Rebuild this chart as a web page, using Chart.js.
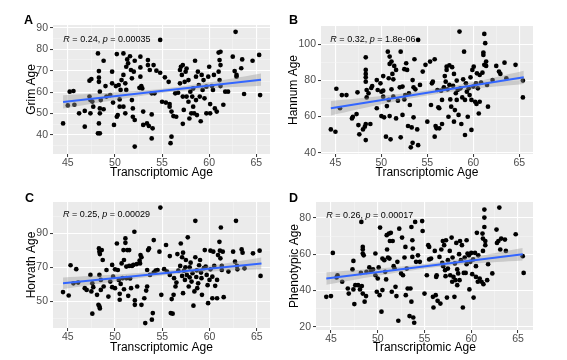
<!DOCTYPE html>
<html><head><meta charset="utf-8">
<script src="https://cdn.jsdelivr.net/npm/chart.js@4"></script>
<style>
body{margin:0;background:#fff;width:567px;height:360px;overflow:hidden;position:relative;font-family:'Liberation Sans',Arial,sans-serif}
canvas{position:absolute}
.lab{position:absolute;font:bold 12.5px 'Liberation Sans',Arial,sans-serif;color:#000;line-height:12px}
</style></head><body>
<canvas id="cA" width="283" height="180" style="left:0;top:0"></canvas>
<canvas id="cB" width="284" height="180" style="left:283px;top:0"></canvas>
<canvas id="cC" width="283" height="180" style="left:0;top:180px"></canvas>
<canvas id="cD" width="284" height="180" style="left:283px;top:180px"></canvas>
<div class="lab" style="left:24px;top:14px">A</div>
<div class="lab" style="left:289px;top:14px">B</div>
<div class="lab" style="left:25px;top:192px">C</div>
<div class="lab" style="left:289px;top:192px">D</div>
<script>
// ---------- DATA ----------
const xTitle = "Transcriptomic Age";
const xMajorTicks = [45, 50, 55, 60, 65];
const xMinorTicks = [47.5, 52.5, 57.5, 62.5];

// Panel A: Grim Age
const grimPoints = [[44.5,45.4],[45.0,53.8],[45.2,60.2],[45.6,60.5],[45.7,54.1],[46.2,50.1],[46.8,43.9],[46.8,51.2],[47.3,65.3],[47.5,66.1],[47.3,57.9],[47.4,56.3],[47.4,50.1],[47.6,55.6],[47.7,53.2],[48.2,78.0],[48.3,69.8],[48.3,66.7],[48.3,64.8],[48.4,60.2],[48.4,52.4],[48.4,50.1],[48.3,45.4],[48.2,40.8],[48.4,40.8],[48.5,56.3],[48.8,74.6],[49.0,62.8],[49.1,57.9],[48.8,52.0],[49.5,58.6],[49.7,69.5],[49.7,64.1],[49.8,55.1],[49.9,44.7],[50.1,62.8],[50.2,77.7],[50.2,48.5],[50.3,49.3],[50.4,63.3],[50.5,56.6],[50.5,53.2],[50.6,61.0],[50.7,65.6],[50.9,78.0],[50.9,68.0],[50.9,53.2],[51.1,50.1],[51.1,64.1],[51.2,61.0],[51.2,71.8],[51.3,75.2],[51.4,73.4],[51.6,76.7],[51.7,70.3],[51.8,66.4],[51.8,56.3],[51.9,52.4],[51.9,48.5],[52.1,47.0],[52.0,69.5],[52.1,74.6],[52.6,62.0],[52.7,67.2],[52.7,71.5],[52.7,76.5],[52.8,62.8],[52.9,61.7],[53.0,44.7],[52.1,34.6],[53.0,50.9],[53.4,45.4],[53.5,74.9],[53.5,72.6],[53.6,44.2],[53.7,70.3],[53.9,59.4],[53.9,49.6],[54.0,43.1],[53.9,38.4],[54.1,72.6],[54.2,59.4],[54.4,70.0],[54.8,84.3],[54.8,69.0],[55.0,55.5],[55.3,66.9],[55.4,55.1],[55.7,64.8],[55.8,53.2],[55.8,54.4],[55.9,36.2],[56.0,39.2],[56.0,50.9],[56.2,48.8],[56.4,59.4],[56.5,48.5],[56.7,59.7],[56.9,64.1],[56.9,70.3],[57.0,71.8],[57.1,68.0],[57.2,72.6],[57.2,57.9],[57.2,45.2],[57.3,51.7],[57.4,64.8],[57.5,69.5],[57.6,71.0],[57.6,57.9],[57.8,55.5],[57.8,65.6],[57.9,47.7],[58.0,60.2],[58.1,50.1],[58.2,57.9],[58.3,61.7],[58.3,53.2],[58.4,50.1],[58.5,74.6],[58.6,67.2],[58.6,56.3],[58.7,49.3],[58.8,69.5],[58.9,63.3],[59.0,57.9],[59.1,46.4],[59.2,68.0],[59.3,61.0],[59.4,65.6],[59.5,57.1],[59.7,62.5],[59.7,50.1],[59.9,67.2],[60.0,71.8],[60.1,54.4],[60.1,50.1],[60.3,62.8],[60.4,61.0],[60.5,68.0],[60.6,52.4],[60.8,50.9],[61.0,78.4],[61.1,74.9],[61.2,72.6],[61.2,78.8],[61.0,69.5],[61.1,65.6],[61.2,62.8],[61.5,54.1],[61.7,60.2],[62.0,60.2],[62.5,76.5],[62.7,69.8],[62.8,88.1],[62.9,68.0],[62.9,67.2],[63.4,71.1],[63.5,75.2],[63.7,59.1],[64.6,74.6],[65.3,77.3],[65.4,58.6]];
const grimFit = [[44.5,55.4],[65.5,65.8]];
const grimBandX = [44.5, 50, 55, 60, 65.5];
const grimBandLow = [52.3, 56.3, 59.6, 61.6, 62.9];
const grimBandHigh = [58.5, 59.9, 61.6, 64.6, 68.7];
const grimYMajor = [40, 50, 60, 70, 80, 90];
const grimYMinor = [35, 45, 55, 65, 75, 85];
const grimLabel = ["0.24", "0.00035"];

// Panel B: Hannum Age
const hannumPoints = [[44.5,52.9],[45.0,51.6],[45.1,75.4],[45.5,64.6],[45.7,71.9],[46.2,71.9],[46.8,59.0],[46.9,59.9],[47.3,61.4],[47.4,73.4],[47.5,55.3],[47.6,50.2],[48.0,52.9],[48.2,54.4],[48.3,55.9],[48.3,92.8],[48.3,85.8],[48.3,83.6],[48.3,81.7],[48.3,79.3],[48.4,74.7],[48.4,70.6],[48.3,47.0],[48.6,72.9],[48.8,55.9],[48.9,75.8],[49.0,76.9],[49.5,64.6],[49.5,80.2],[49.6,74.7],[49.9,78.4],[50.0,73.8],[50.0,60.3],[50.2,82.4],[50.2,71.0],[50.2,74.3],[50.3,59.6],[50.5,48.9],[50.6,65.8],[50.7,95.9],[50.8,81.2],[50.8,69.2],[50.9,93.2],[50.9,89.1],[50.9,60.3],[51.0,47.4],[51.1,75.1],[51.1,90.4],[51.2,83.6],[51.3,80.6],[51.3,71.0],[51.4,88.0],[51.6,85.8],[51.6,59.0],[51.8,68.8],[52.0,76.2],[52.1,95.9],[52.1,48.5],[52.3,76.6],[52.3,60.9],[52.5,69.5],[52.5,86.2],[52.6,71.9],[52.7,89.5],[52.8,85.8],[52.9,54.8],[53.0,72.9],[53.1,66.4],[53.2,43.0],[53.3,54.0],[53.4,45.5],[53.4,80.2],[53.5,76.2],[53.5,59.6],[53.6,91.7],[53.7,75.1],[53.9,52.9],[54.0,102.4],[54.0,44.2],[54.2,77.5],[54.5,84.9],[54.8,88.6],[55.0,57.2],[55.3,90.4],[55.4,66.4],[55.5,78.4],[55.6,79.3],[55.8,91.7],[55.8,48.9],[55.9,54.8],[56.0,53.5],[56.1,74.7],[56.2,65.1],[56.3,53.5],[56.3,64.6],[56.5,74.3],[56.6,69.2],[56.6,55.9],[56.8,76.2],[56.9,82.4],[57.0,79.3],[57.1,87.6],[57.1,85.8],[57.2,75.1],[57.3,59.9],[57.4,88.4],[57.4,77.5],[57.5,69.5],[57.6,65.5],[57.7,87.3],[57.8,77.0],[57.9,57.2],[57.9,83.6],[58.0,63.6],[58.1,72.9],[58.2,79.9],[58.2,69.2],[58.3,74.7],[58.4,60.9],[58.5,107.0],[58.6,75.6],[58.7,55.9],[58.8,70.6],[58.9,80.6],[59.0,95.9],[59.1,69.2],[59.1,49.8],[59.2,78.4],[59.3,73.8],[59.4,59.9],[59.5,75.6],[59.6,71.9],[59.7,81.7],[59.8,52.6],[59.8,69.2],[59.9,85.8],[60.0,76.6],[60.05,87.6],[60.2,68.2],[60.3,78.4],[60.35,67.0],[60.4,83.9],[60.5,75.6],[60.6,61.7],[60.7,83.0],[60.7,68.2],[60.85,78.8],[61.0,84.3],[61.1,95.4],[61.1,94.1],[61.2,88.6],[61.2,105.7],[61.3,100.6],[61.4,90.4],[61.4,88.0],[61.5,77.5],[61.6,65.5],[62.1,80.2],[62.5,88.0],[62.8,84.9],[62.95,83.6],[63.4,89.8],[63.6,81.2],[64.6,88.6],[65.4,79.9],[65.4,70.6]];
const hannumFit = [[44.5,64.6],[65.5,81.7]];
const hannumBandX = [44.5, 50, 55, 60, 65.5];
const hannumBandLow = [60.6, 66.8, 71.7, 75.3, 78.0];
const hannumBandHigh = [68.6, 71.4, 74.5, 79.1, 85.4];
const hannumYMajor = [40, 60, 80, 100];
const hannumYMinor = [50, 70, 90];
const hannumLabel = ["0.32", "1.8e-06"];

// Panel C: Horvath Age
const horvathPoints = [[44.5,55.5],[45.1,53.5],[45.3,71.3],[45.6,60.7],[45.9,69.0],[46.1,61.1],[46.8,57.8],[47.0,56.8],[47.4,65.6],[47.5,55.9],[47.6,42.8],[47.6,60.7],[47.7,58.4],[48.1,53.9],[48.3,81.2],[48.35,79.3],[48.4,77.9],[48.35,65.6],[48.25,48.0],[48.35,47.1],[48.4,45.9],[48.5,62.7],[48.5,56.8],[48.6,80.2],[48.7,74.4],[48.8,58.8],[49.1,68.5],[49.3,52.9],[49.5,61.7],[49.7,58.4],[49.7,71.5],[49.8,64.6],[50.0,68.9],[50.0,57.8],[50.2,84.1],[50.3,68.5],[50.4,62.7],[50.5,54.5],[50.5,51.0],[50.6,60.3],[50.7,72.4],[50.8,63.7],[50.9,80.2],[50.95,74.4],[50.95,57.2],[51.1,87.1],[51.1,84.5],[51.2,70.5],[51.2,63.7],[51.3,80.2],[51.4,53.3],[51.5,70.9],[51.5,80.2],[51.6,63.5],[51.7,57.8],[51.8,70.9],[51.95,71.5],[52.05,91.0],[52.1,50.6],[52.1,48.0],[52.3,72.0],[52.35,58.8],[52.6,74.0],[52.65,72.4],[52.7,77.3],[52.8,76.0],[52.8,48.0],[53.1,51.9],[53.2,37.3],[53.3,56.4],[53.4,58.8],[53.4,68.5],[53.5,80.2],[53.6,81.2],[53.7,65.6],[53.9,39.3],[54.0,43.2],[54.1,86.1],[54.1,67.0],[54.3,68.1],[54.5,68.5],[54.7,79.3],[54.8,105.2],[54.9,53.9],[55.2,69.0],[55.4,83.2],[55.5,67.6],[55.8,76.7],[55.8,65.6],[55.9,43.2],[56.0,51.4],[56.1,42.8],[56.2,53.9],[56.25,63.7],[56.4,58.8],[56.5,61.1],[56.6,77.9],[56.7,68.1],[56.9,70.9],[56.96,84.1],[57.1,76.0],[57.1,65.0],[57.2,54.9],[57.2,78.7],[57.3,68.1],[57.4,62.7],[57.45,70.1],[57.5,74.4],[57.6,65.6],[57.7,87.7],[57.8,58.8],[57.9,64.2],[57.9,70.1],[58.0,72.8],[58.1,61.7],[58.2,66.6],[58.3,47.5],[58.4,55.9],[58.5,97.4],[58.5,76.0],[58.6,64.4],[58.65,68.3],[58.7,57.8],[58.8,60.7],[58.9,71.3],[59.0,74.4],[59.1,67.0],[59.15,63.7],[59.2,53.9],[59.4,69.6],[59.5,80.2],[59.6,70.5],[59.7,65.6],[59.8,59.6],[59.85,49.0],[60.0,62.7],[60.1,79.9],[60.1,68.9],[60.3,64.6],[60.3,51.9],[60.4,79.3],[60.5,70.9],[60.6,59.2],[60.8,51.9],[60.8,62.7],[60.9,77.3],[61.05,85.1],[61.1,79.9],[61.15,75.4],[61.2,93.5],[61.3,70.9],[61.3,68.5],[61.4,79.3],[61.5,52.5],[62.0,67.6],[62.5,79.3],[62.7,73.4],[62.8,97.4],[62.9,70.9],[62.95,68.9],[63.4,80.6],[63.5,78.7],[63.7,69.5],[64.6,78.3],[65.3,79.9],[65.4,65.0]];
const horvathFit = [[44.5,60.7],[65.5,72.4]];
const horvathBandX = [44.5, 50, 55, 60, 65.5];
const horvathBandLow = [57.3, 61.8, 65.3, 67.5, 68.9];
const horvathBandHigh = [64.1, 65.8, 67.9, 71.1, 75.9];
const horvathYMajor = [50, 70, 90];
const horvathYMinor = [40, 60, 80, 100];
const horvathLabel = ["0.25", "0.00029"];

// Panel D: Phenotypic Age
const phenoPoints = [[44.5,36.5],[45.0,36.9],[45.2,60.7],[45.6,47.2],[45.7,48.4],[46.2,44.8],[46.8,41.1],[46.9,38.3],[47.3,51.6],[47.4,56.3],[47.4,40.6],[47.5,32.5],[47.6,42.9],[47.9,42.9],[48.1,40.6],[48.2,49.7],[48.25,77.8],[48.4,64.0],[48.4,62.6],[48.4,60.4],[48.5,59.4],[48.3,42.4],[48.4,38.3],[48.6,33.8],[48.75,36.9],[48.8,50.3],[49.1,52.7],[49.3,50.8],[49.5,51.6],[49.75,48.4],[49.75,60.4],[49.9,39.3],[50.0,46.6],[50.1,52.7],[50.2,37.4],[50.25,74.7],[50.4,28.3],[50.5,40.2],[50.5,57.6],[50.7,56.7],[50.8,50.3],[50.9,46.1],[50.96,70.5],[51.0,62.6],[51.1,58.2],[51.2,71.4],[51.25,57.6],[51.3,67.3],[51.4,71.8],[51.5,39.3],[51.6,67.3],[51.7,53.4],[51.8,52.1],[51.9,42.0],[52.0,36.9],[52.1,55.8],[52.2,23.3],[52.3,74.1],[52.5,49.4],[52.6,69.2],[52.7,48.4],[52.86,58.2],[52.96,64.0],[53.0,37.4],[53.1,52.1],[53.2,41.1],[53.4,25.9],[53.5,41.1],[53.6,33.8],[53.6,75.0],[53.7,58.5],[53.7,67.7],[53.75,63.1],[53.8,25.1],[53.9,22.2],[54.0,77.8],[54.1,55.8],[54.3,59.4],[54.5,55.8],[54.75,78.3],[54.8,72.8],[55.0,38.3],[55.25,48.4],[55.4,65.0],[55.5,57.1],[55.5,64.0],[55.7,57.6],[55.9,36.5],[55.96,30.6],[56.1,61.8],[56.2,37.4],[56.25,47.5],[56.3,48.4],[56.4,34.3],[56.6,58.5],[56.7,32.8],[56.8,62.6],[56.9,55.2],[56.96,67.3],[57.0,53.4],[57.1,65.0],[57.2,51.2],[57.25,47.9],[57.3,67.7],[57.4,36.1],[57.5,56.7],[57.5,52.1],[57.7,61.8],[57.75,48.4],[57.9,69.2],[57.96,44.8],[58.0,58.2],[58.1,47.5],[58.2,36.5],[58.25,54.9],[58.3,45.7],[58.4,66.2],[58.5,42.9],[58.5,51.6],[58.6,49.4],[58.7,60.0],[58.75,45.7],[58.8,67.3],[58.9,56.7],[59.0,65.0],[59.1,30.6],[59.2,49.7],[59.3,58.2],[59.4,49.7],[59.5,54.5],[59.5,67.7],[59.6,60.4],[59.75,59.4],[59.8,40.6],[59.9,55.8],[60.0,60.7],[60.1,49.0],[60.2,57.1],[60.25,36.1],[60.4,60.7],[60.5,47.5],[60.5,53.4],[60.6,71.8],[60.7,44.8],[60.75,59.4],[60.9,46.6],[61.1,44.8],[61.2,71.4],[61.25,68.6],[61.25,61.8],[61.3,43.5],[61.4,84.6],[61.4,80.2],[61.4,75.0],[61.5,65.0],[61.5,67.3],[61.7,45.7],[61.8,54.5],[62.25,49.4],[62.7,73.6],[62.75,66.2],[62.9,67.3],[63.0,85.7],[63.1,62.6],[63.2,68.6],[63.6,68.1],[63.7,61.8],[64.75,71.0],[65.5,58.9],[65.6,49.7]];
const phenoFit = [[44.5,46.6],[65.5,60.0]];
const phenoBandX = [44.5, 50, 55, 60, 65.5];
const phenoBandLow = [43.1, 48.1, 52.0, 54.7, 56.6];
const phenoBandHigh = [50.1, 52.1, 54.6, 58.3, 63.4];
const phenoYMajor = [20, 40, 60, 80];
const phenoYMinor = [30, 50, 70];
const phenoLabel = ["0.26", "0.00017"];

// ---------- RENDERING ----------
const FONT = "'Liberation Sans', Arial, sans-serif";
const near = (arr, v) => arr.some(a => Math.abs(a - v) < 1e-9);
const zip = (xs, ys) => xs.map((x, i) => [x, ys[i]]);

function makeScale(min, max, majors, minors, isX, fitSize, titleText, titlePad) {
  const all = majors.concat(minors).filter(v => v >= min && v <= max).sort((a, b) => a - b);
  const isMaj = c => c && c.tick ? near(majors, c.tick.value) : true;
  return {
    type: 'linear', min: min, max: max,
    afterBuildTicks: s => { s.ticks = all.map(v => ({ value: v })); },
    afterFit: s => { if (isX) s.height = fitSize; else s.width = fitSize; },
    grid: {
      color: c => isMaj(c) ? '#FFFFFF' : '#F6F6F6',
      lineWidth: c => isMaj(c) ? 1.1 : 0.55,
      drawTicks: true, tickLength: 3,
      tickColor: c => isMaj(c) ? '#333333' : 'rgba(0,0,0,0)',
      tickWidth: 1
    },
    border: { display: false },
    ticks: {
      autoSkip: false, maxRotation: 0, minRotation: 0, padding: isX ? 0 : 2,
      color: '#4D4D4D', font: { family: FONT, size: 10.5 },
      callback: v => near(majors, v) ? String(v) : ''
    },
    title: { display: true, text: titleText, color: '#000000',
      font: { family: FONT, size: 12, lineHeight: 1.2 }, padding: titlePad }
  };
}

const bgPlugin = {
  id: 'panelBg',
  beforeDraw(chart) {
    const { ctx, chartArea: a } = chart;
    ctx.save();
    ctx.fillStyle = '#EBEBEB';
    ctx.fillRect(a.left, a.top, a.right - a.left, a.bottom - a.top);
    ctx.restore();
  }
};

const corPlugin = {
  id: 'corLabel',
  afterDatasetsDraw(chart) {
    const o = chart.options.plugins.corLabel;
    const { ctx } = chart;
    let x = chart.scales.x.getPixelForValue(o.x);
    const y = chart.scales.y.getPixelForValue(o.y);
    const parts = [['R', true], [' = ' + o.r + ', ', false], ['p', true], [' = ' + o.p, false]];
    ctx.save();
    ctx.fillStyle = '#000';
    ctx.textBaseline = 'middle';
    ctx.textAlign = 'left';
    parts.forEach(([t, it]) => {
      ctx.font = (it ? 'italic ' : '') + '9px ' + FONT;
      ctx.fillText(t, x, y);
      x += ctx.measureText(t).width;
    });
    ctx.restore();
  }
};

function panel(p) {
  new Chart(document.getElementById(p.id), {
    type: 'scatter',
    data: {
      datasets: [
        { type: 'line', data: p.fit, borderColor: '#3366FF', borderWidth: 2, pointRadius: 0, fill: false },
        { type: 'line', data: zip(p.bx, p.bh), borderWidth: 0, borderColor: 'rgba(0,0,0,0)', pointRadius: 0,
          fill: '+1', backgroundColor: 'rgba(153,153,153,0.4)', tension: 0.4 },
        { type: 'line', data: zip(p.bx, p.bl), borderWidth: 0, borderColor: 'rgba(0,0,0,0)', pointRadius: 0,
          fill: false, tension: 0.4 },
        { type: 'scatter', data: p.pts, pointRadius: 2.35, pointBackgroundColor: '#000000',
          pointBorderWidth: 0, borderWidth: 0 }
      ]
    },
    options: {
      responsive: false, animation: false, events: [],
      layout: { padding: p.pad },
      scales: {
        x: makeScale(p.xmin, p.xmax, xMajorTicks, xMinorTicks, true, p.xh, xTitle, p.xtp),
        y: makeScale(p.ymin, p.ymax, p.yMaj, p.yMin, false, p.yw, p.ytitle, p.ytp)
      },
      plugins: {
        legend: { display: false }, tooltip: { enabled: false },
        corLabel: { x: p.ax, y: p.ay, r: p.lab[0], p: p.lab[1] }
      }
    },
    plugins: [bgPlugin, corPlugin]
  });
}

panel({ id: 'cA', pts: grimPoints, fit: grimFit, bx: grimBandX, bl: grimBandLow, bh: grimBandHigh,
  xmin: 43.43, xmax: 66.45, ymin: 31.15, ymax: 91.26, yMaj: grimYMajor, yMin: grimYMinor,
  ytitle: 'Grim Age', lab: grimLabel, ax: 44.53, ay: 84.6,
  pad: { left: 0, top: 25, right: 13, bottom: 0 }, yw: 53, xh: 26,
  xtp: { top: 0, bottom: 0 }, ytp: { top: 24, bottom: 0 } });

panel({ id: 'cB', pts: hannumPoints, fit: hannumFit, bx: hannumBandX, bl: hannumBandLow, bh: hannumBandHigh,
  xmin: 43.43, xmax: 66.5, ymin: 39.3, ymax: 110.1, yMaj: hannumYMajor, yMin: hannumYMinor,
  ytitle: 'Hannum Age', lab: hannumLabel, ax: 44.45, ay: 102.8,
  pad: { left: 0, top: 26, right: 34, bottom: 0 }, yw: 38, xh: 26,
  xtp: { top: 0, bottom: 0 }, ytp: { top: 3, bottom: 0 } });

panel({ id: 'cC', pts: horvathPoints, fit: horvathFit, bx: horvathBandX, bl: horvathBandLow, bh: horvathBandHigh,
  xmin: 43.44, xmax: 66.4, ymin: 34.4, ymax: 108.5, yMaj: horvathYMajor, yMin: horvathYMinor,
  ytitle: 'Horvath Age', lab: horvathLabel, ax: 44.5, ay: 101.3,
  pad: { left: 0, top: 22, right: 13, bottom: 0 }, yw: 53, xh: 32,
  xtp: { top: 0, bottom: 5 }, ytp: { top: 24, bottom: 0 } });

panel({ id: 'cD', pts: phenoPoints, fit: phenoFit, bx: phenoBandX, bl: phenoBandLow, bh: phenoBandHigh,
  xmin: 43.4, xmax: 66.6, ymin: 18.2, ymax: 88.8, yMaj: phenoYMajor, yMin: phenoYMinor,
  ytitle: 'Phenotypic Age', lab: phenoLabel, ax: 44.5, ay: 81.5,
  pad: { left: 0, top: 22, right: 34, bottom: 0 }, yw: 33, xh: 30,
  xtp: { top: 0, bottom: 5 }, ytp: { top: 4, bottom: 0 } });
</script>
</body></html>
